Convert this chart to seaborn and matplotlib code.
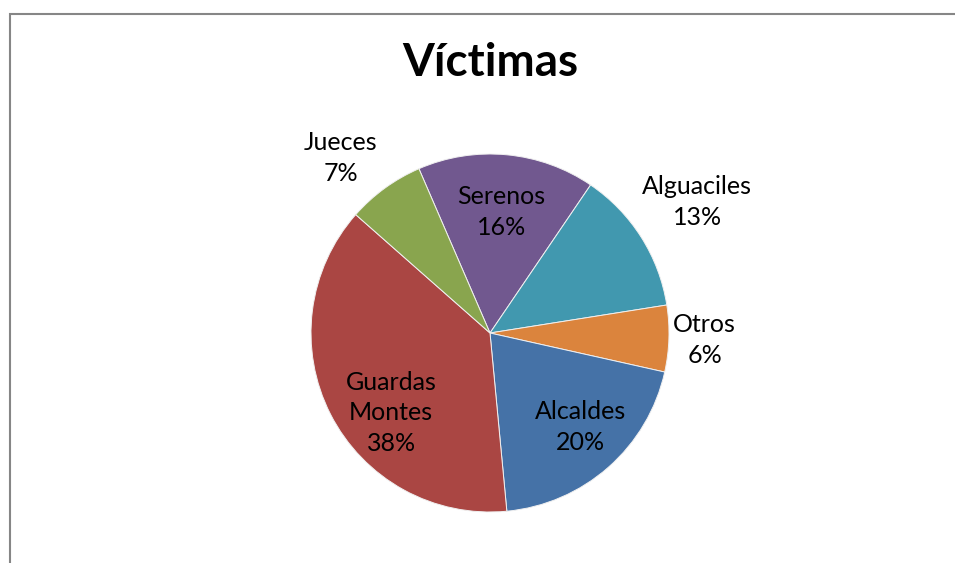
import numpy as np
import matplotlib
matplotlib.use("Agg")
import matplotlib.pyplot as plt
from matplotlib.lines import Line2D
import seaborn as sns

# Data
categories = ["Serenos", "Alguaciles", "Otros", "Alcaldes", "Guardas\nMontes", "Jueces"]
percentages = [16, 13, 6, 20, 38, 7]
colors = ["#71588F", "#4198AF", "#DB843D", "#4572A7", "#AA4643", "#89A54E"]

# Label placement: radial distance (in radii) and angular nudge (degrees, clockwise)
label_radius = [0.68, 1.37, 1.20, 0.73, 0.71, 1.285]
label_nudge = [0.0, 0.0, 0.0, -2.5, -12.0, -4.5]

sns.set_theme(style="white")
plt.rcParams["font.family"] = ["Lato", "DejaVu Sans"]

W, H, DPI = 955, 563, 100
fig = plt.figure(figsize=(W / DPI, H / DPI), dpi=DPI)
fig.patch.set_facecolor("white")

# Chart frame: left and top edges
fx, fy = 10 / W, 1 - 13.5 / H
fig.add_artist(Line2D([fx, fx, 1.05], [-0.05, fy, fy], transform=fig.transFigure,
                      color="#868686", linewidth=1.5, solid_joinstyle="miter"))

# Pie axes: centre (490, 333) px, radius 179 px
cx, cy, R = 490, 333, 179
ax = fig.add_axes([(cx - R) / W, (H - cy - R) / H, 2 * R / W, 2 * R / H])

start = 90 + 23.4  # first wedge starts slightly left of 12 o'clock, runs clockwise
wedges, _ = ax.pie(percentages, colors=colors, startangle=start, counterclock=False,
                   wedgeprops=dict(edgecolor="#f0f0f0", linewidth=0.7))
ax.set_xlim(-1, 1)
ax.set_ylim(-1, 1)
ax.set_aspect("equal")
ax.axis("off")

# Category labels with percentage
total = sum(percentages)
cum = 0.0
for name, val, rr, nudge in zip(categories, percentages, label_radius, label_nudge):
    mid = -23.4 + (cum + val / 2) / total * 360 + nudge  # clockwise from top
    cum += val
    th = np.deg2rad(mid)
    x, y = rr * np.sin(th), rr * np.cos(th)
    ax.text(x, y, f"{name}\n{val}%", ha="center", va="center", fontsize=18,
            color="black", linespacing=1.42, clip_on=False)

fig.text(cx / W, 1 - 63 / H, "Víctimas", ha="center", va="center",
         fontsize=33, fontweight="bold", color="black")

fig.savefig("out.png", dpi=DPI, facecolor="white")
